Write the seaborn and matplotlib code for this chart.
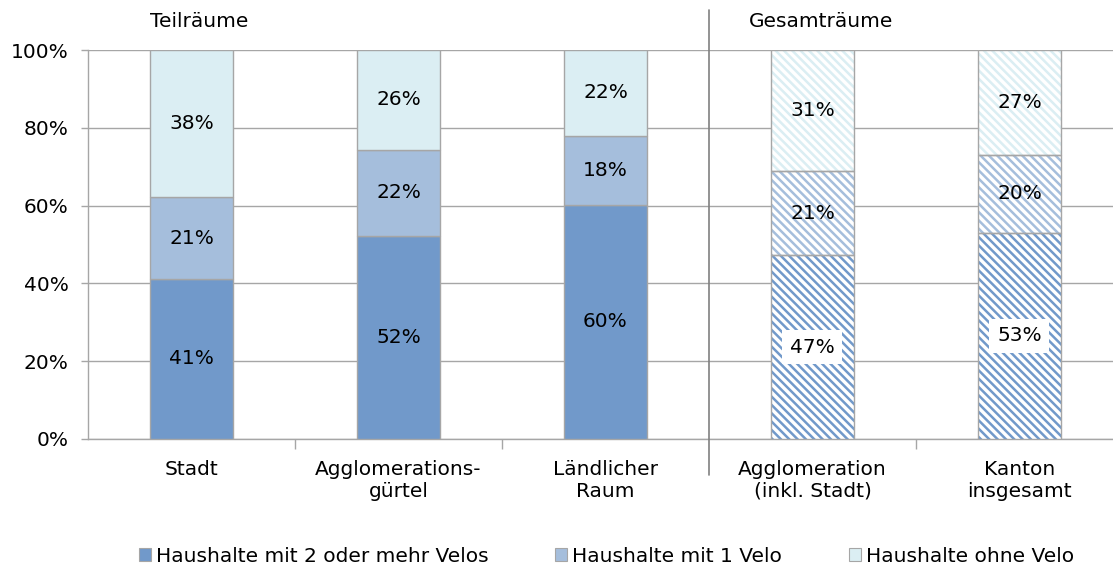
import matplotlib
matplotlib.use("Agg")
import matplotlib.pyplot as plt
import seaborn as sns
import numpy as np
from matplotlib.patches import Patch
from matplotlib.lines import Line2D
import matplotlib.transforms as mtransforms

categories = ["Stadt", "Agglomerations-\ngürtel", "Ländlicher\nRaum",
              "Agglomeration\n(inkl. Stadt)", "Kanton\ninsgesamt"]
series_names = ["Haushalte mit 2 oder mehr Velos", "Haushalte mit 1 Velo", "Haushalte ohne Velo"]
velos_2plus = [41.2, 52.2, 60.2, 47.3, 53.0]
velos_1 = [20.9, 22.1, 17.8, 21.5, 20.0]
velos_0 = [37.9, 25.7, 22.0, 31.2, 27.0]
labels_2plus = ["41%", "52%", "60%", "47%", "53%"]
labels_1 = ["21%", "22%", "18%", "21%", "20%"]
labels_0 = ["38%", "26%", "22%", "31%", "27%"]
hatched = [False, False, False, True, True]
group_titles = ["Teilräume", "Gesamträume"]

colors = ["#7199CA", "#A5BEDC", "#DBEEF3"]
grid_col = "#A6A6A6"

sns.set_style("white")
plt.rcParams["font.family"] = ["DejaVu Sans"]
plt.rcParams["text.color"] = "black"
plt.rcParams["xtick.color"] = grid_col
plt.rcParams["ytick.color"] = grid_col
plt.rcParams["xtick.labelcolor"] = "black"
plt.rcParams["ytick.labelcolor"] = "black"
plt.rcParams["hatch.linewidth"] = 1.8
FS = 14.5

fig = plt.figure(figsize=(11.13, 5.67), dpi=100)
ax = fig.add_axes([88/1113, 1-439/567, 1-88/1113, (439-50)/567])

values = [velos_2plus, velos_1, velos_0]
labels = [labels_2plus, labels_1, labels_0]
bottom = np.zeros(len(categories))
x = np.arange(len(categories))
for vals, col, labs in zip(values, colors, labels):
    n0 = len(ax.patches)
    sns.barplot(x=categories, y=vals, bottom=bottom, color=col, width=0.4,
                edgecolor=grid_col, linewidth=1.0, order=categories, ax=ax,
                saturation=1, zorder=3)
    new = ax.patches[n0:]
    for i, p in enumerate(new):
        if hatched[i]:
            p.set_facecolor("white")
            p.set_edgecolor(col)
            p.set_linewidth(0)
            p.set_hatch("\\\\\\\\")
    # outline for hatched bars
    hb = [c for c, h in zip(categories, hatched) if h]
    hv = [v for v, h in zip(vals, hatched) if h]
    hbot = [b for b, h in zip(bottom, hatched) if h]
    n1 = len(ax.patches)
    sns.barplot(x=hb, y=hv, bottom=hbot, color=col, width=0.4, order=categories,
                edgecolor=grid_col, linewidth=1.0, ax=ax, zorder=4)
    for p in ax.patches[n1:]:
        p.set_facecolor("none")
    for i in range(len(categories)):
        yc = bottom[i] + vals[i] / 2
        box = None
        if hatched[i] and col == colors[0]:
            box = dict(facecolor="white", edgecolor="none", pad=5.5)
        ax.text(x[i], yc, labs[i], ha="center", va="center", fontsize=FS,
                color="black", zorder=6, bbox=box)
    bottom = bottom + np.array(vals)

ax.set_xlim(-0.5, 4.452)
ax.set_ylim(0, 100)
ax.set_yticks([0, 20, 40, 60, 80, 100])
ax.set_yticklabels([f"{v}%" for v in [0, 20, 40, 60, 80, 100]], fontsize=FS)
ax.yaxis.grid(True, color=grid_col, linewidth=1.0, zorder=0)
ax.set_axisbelow(True)
ax.set_xlabel("")
ax.set_ylabel("")
ax.tick_params(axis="x", which="major", length=0, pad=15, labelsize=FS, labelcolor="black")
ax.set_xticks([0.5, 1.5, 3.5], minor=True)
ax.tick_params(axis="x", which="minor", bottom=True, length=7, color=grid_col, width=1)
ax.tick_params(axis="y", which="major", length=5, color=grid_col, width=1, left=True, pad=9,
               labelcolor="black")
for s in ["top", "right"]:
    ax.spines[s].set_visible(False)
for s in ["left", "bottom"]:
    ax.spines[s].set_color(grid_col)
    ax.spines[s].set_linewidth(1.0)

trans = mtransforms.blended_transform_factory(ax.transData, ax.transAxes)
ax.add_line(Line2D([2.5, 2.5], [-0.093, 1.103], transform=trans, color="#808080",
                   linewidth=1.2, clip_on=False, zorder=5))
ax.text(0.036, 1.072, group_titles[0], transform=trans, ha="center", va="center", fontsize=FS)
ax.text(3.04, 1.072, group_titles[1], transform=trans, ha="center", va="center", fontsize=FS)

handles = [Patch(facecolor=c, edgecolor=grid_col, linewidth=0.8) for c in colors]
fig.legend(handles, series_names, loc="center", bbox_to_anchor=(0.545, 1-556/567), ncol=3,
           frameon=False, fontsize=FS, handlelength=0.6, handleheight=0.6,
           handletextpad=0.25, columnspacing=3.3)

fig.savefig("out.png", dpi=100)
